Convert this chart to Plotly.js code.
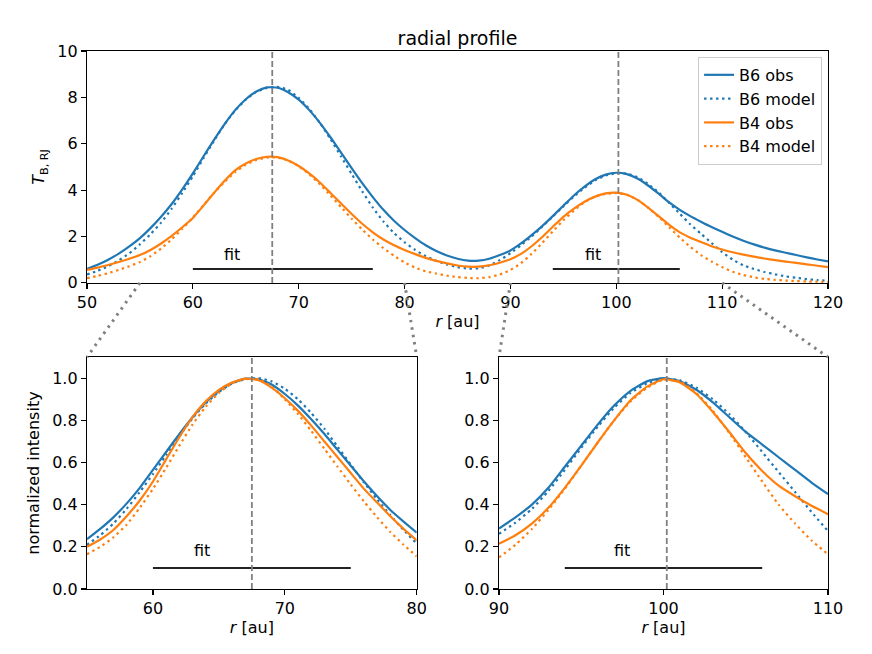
<!DOCTYPE html>
<html>
<head>
<meta charset="utf-8">
<script src="https://cdn.plot.ly/plotly-3.0.1.min.js"></script>
<style>
  body { margin: 0; background: #fff; }
  #chart { width: 872px; height: 654px; }
</style>
</head>
<body>
<div id="chart"></div>
<script>
// radial grid of the full profile (au)
const r = [50, 51, 52, 53, 54, 55, 56, 57, 58, 59, 60, 61, 62, 63, 64, 65, 66, 67, 68, 69,
  70, 71, 72, 73, 74, 75, 76, 77, 78, 79, 80, 81, 82, 83, 84, 85, 86, 87, 88, 89,
  90, 91, 92, 93, 94, 95, 96, 97, 98, 99, 100, 101, 102, 103, 104, 105, 106, 107, 108, 109,
  110, 111, 112, 113, 114, 115, 116, 117, 118, 119, 120];

// brightness temperature T_B,RJ
const b6Obs = [0.60, 0.78, 1.0, 1.26, 1.57, 1.93, 2.36, 2.85, 3.4, 4.03, 4.72, 5.45, 6.17, 6.85, 7.45, 7.92, 8.25, 8.43, 8.42, 8.22,
  7.9, 7.45, 6.9, 6.28, 5.62, 4.95, 4.3, 3.7, 3.15, 2.68, 2.28, 1.93, 1.62, 1.37, 1.18, 1.04, 0.96, 0.96, 1.04, 1.2,
  1.4, 1.7, 2.06, 2.45, 2.88, 3.33, 3.77, 4.15, 4.47, 4.67, 4.75, 4.69, 4.5, 4.2, 3.85, 3.47, 3.15, 2.88, 2.64, 2.41,
  2.2, 2.0, 1.82, 1.66, 1.52, 1.4, 1.3, 1.2, 1.1, 1.01, 0.93];
const b6Model = [0.36, 0.52, 0.72, 0.97, 1.28, 1.66, 2.1, 2.6, 3.2, 3.88, 4.6, 5.37, 6.13, 6.84, 7.44, 7.9, 8.24, 8.41, 8.45, 8.32,
  7.98, 7.5, 6.9, 6.2, 5.45, 4.7, 3.95, 3.25, 2.65, 2.15, 1.75, 1.42, 1.15, 0.95, 0.8, 0.68, 0.62, 0.63, 0.75, 0.98,
  1.28, 1.62, 2.0, 2.42, 2.86, 3.3, 3.73, 4.1, 4.42, 4.63, 4.73, 4.71, 4.56, 4.27, 3.9, 3.45, 2.98, 2.52, 2.12, 1.72,
  1.33, 1.0, 0.76, 0.6, 0.47, 0.37, 0.28, 0.22, 0.16, 0.12, 0.09];
const b4Obs = [0.56, 0.66, 0.77, 0.9, 1.04, 1.2, 1.42, 1.7, 2.03, 2.4, 2.8, 3.33, 3.88, 4.4, 4.85, 5.15, 5.34, 5.44, 5.42, 5.28,
  5.04, 4.72, 4.33, 3.88, 3.42, 2.97, 2.55, 2.18, 1.87, 1.62, 1.42, 1.24, 1.08, 0.95, 0.84, 0.75, 0.7, 0.7, 0.76, 0.87,
  1.02, 1.25, 1.58, 1.98, 2.42, 2.85, 3.2, 3.5, 3.72, 3.86, 3.89, 3.8, 3.58, 3.25, 2.88, 2.5, 2.18, 1.95, 1.76, 1.58,
  1.44, 1.32, 1.22, 1.13, 1.05, 0.98, 0.92, 0.86, 0.8, 0.74, 0.68];
const b4Model = [0.2, 0.3, 0.42, 0.56, 0.72, 0.9, 1.15, 1.48, 1.88, 2.33, 2.82, 3.35, 3.88, 4.36, 4.78, 5.1, 5.3, 5.4, 5.4, 5.28,
  5.04, 4.68, 4.25, 3.77, 3.27, 2.77, 2.3, 1.87, 1.5, 1.17, 0.88, 0.66, 0.5, 0.4, 0.31, 0.25, 0.21, 0.2, 0.25, 0.36,
  0.56, 0.85, 1.25, 1.72, 2.22, 2.7, 3.12, 3.48, 3.72, 3.84, 3.87, 3.8, 3.58, 3.25, 2.85, 2.4, 1.95, 1.55, 1.2, 0.92,
  0.68, 0.48, 0.34, 0.24, 0.17, 0.13, 0.1, 0.08, 0.06, 0.05, 0.04];

// inner ring, normalized intensity
const rInner = [55, 56, 57, 58, 59, 60, 61, 62, 63, 64, 65, 66, 67, 68, 69, 70, 71, 72, 73, 74, 75, 76, 77, 78, 79, 80];
const b6ObsInner = [0.236, 0.285, 0.34, 0.405, 0.48, 0.565, 0.65, 0.735, 0.815, 0.885, 0.94, 0.978, 0.998, 0.995, 0.97, 0.925, 0.87, 0.805, 0.735, 0.66, 0.585, 0.51, 0.44, 0.375, 0.32, 0.267];
const b6ModelInner = [0.21, 0.255, 0.31, 0.38, 0.46, 0.545, 0.635, 0.725, 0.81, 0.88, 0.935, 0.975, 0.995, 1.0, 0.985, 0.95, 0.9, 0.835, 0.76, 0.675, 0.59, 0.505, 0.425, 0.35, 0.28, 0.215];
const b4ObsInner = [0.2, 0.235, 0.28, 0.345, 0.42, 0.51, 0.615, 0.72, 0.815, 0.89, 0.945, 0.98, 0.998, 0.99, 0.955, 0.905, 0.845, 0.775, 0.7, 0.625, 0.55, 0.475, 0.41, 0.345, 0.285, 0.23];
const b4ModelInner = [0.165, 0.2, 0.245, 0.305, 0.385, 0.475, 0.575, 0.68, 0.78, 0.865, 0.93, 0.975, 0.997, 0.995, 0.96, 0.9, 0.83, 0.75, 0.665, 0.58, 0.495, 0.415, 0.34, 0.27, 0.21, 0.155];

// outer ring, normalized intensity
const rOuter = [90, 91, 92, 93, 94, 95, 96, 97, 98, 99, 100, 101, 102, 103, 104, 105, 106, 107, 108, 109, 110];
const b6ObsOuter = [0.287, 0.34, 0.4, 0.48, 0.58, 0.68, 0.78, 0.87, 0.94, 0.985, 1.0, 0.985, 0.945, 0.885, 0.815, 0.745, 0.685, 0.625, 0.565, 0.505, 0.45];
const b6ModelOuter = [0.262, 0.315, 0.38, 0.465, 0.565, 0.67, 0.77, 0.86, 0.93, 0.975, 0.997, 0.99, 0.955, 0.9, 0.83, 0.745, 0.65, 0.555, 0.46, 0.365, 0.275];
const b4ObsOuter = [0.215, 0.255, 0.31, 0.385, 0.48, 0.585, 0.695, 0.8, 0.895, 0.96, 0.995, 0.98, 0.925, 0.84, 0.745, 0.645, 0.56, 0.49, 0.44, 0.395, 0.355];
const b4ModelOuter = [0.15, 0.21, 0.285, 0.375, 0.475, 0.585, 0.695, 0.8, 0.89, 0.955, 0.993, 0.985, 0.93, 0.845, 0.74, 0.625, 0.51, 0.4, 0.31, 0.23, 0.165];

const seriesNames = ["B6 obs", "B6 model", "B4 obs", "B4 model"];
const ringCenters = [67.5, 100.2];
const fitTop = [[60, 77], [94, 106]];
const fitInner = [60, 75];
const fitOuter = [94, 106];
const fitLabelX = [63.7, 97.8, 63.7, 97.5];

const blue = '#1f77b4';
const orange = '#ff7f0e';
const styles = [
  { color: blue, dash: 'solid' },
  { color: blue, dash: '2.4px,3.6px' },
  { color: orange, dash: 'solid' },
  { color: orange, dash: '2.4px,3.6px' }
];
const FONT = 'DejaVu Sans, sans-serif';
const fs = 16;

function profileTraces(xs, ysList, xa, ya, legend) {
  return ysList.map((ys, i) => ({
    x: xs, y: ys, xaxis: xa, yaxis: ya,
    type: 'scatter', mode: 'lines',
    name: seriesNames[i], showlegend: legend,
    line: { color: styles[i].color, dash: styles[i].dash, width: 2.2, shape: 'spline', smoothing: 0.5 },
    hoverinfo: 'skip'
  }));
}

function fitTrace(range, yv, xa, ya) {
  return {
    x: range, y: [yv, yv], xaxis: xa, yaxis: ya,
    type: 'scatter', mode: 'lines', showlegend: false,
    line: { color: '#222222', width: 2 }, hoverinfo: 'skip'
  };
}

const data = [
  ...profileTraces(r, [b6Obs, b6Model, b4Obs, b4Model], 'x', 'y', true),
  ...profileTraces(rInner, [b6ObsInner, b6ModelInner, b4ObsInner, b4ModelInner], 'x2', 'y2', false),
  ...profileTraces(rOuter, [b6ObsOuter, b6ModelOuter, b4ObsOuter, b4ModelOuter], 'x3', 'y3', false),
  fitTrace(fitTop[0], 0.6, 'x', 'y'),
  fitTrace(fitTop[1], 0.6, 'x', 'y'),
  fitTrace(fitInner, 0.1, 'x2', 'y2'),
  fitTrace(fitOuter, 0.1, 'x3', 'y3')
];

// panel geometry
const topRange = [50, 120];
const innerRange = [55, 80];
const outerRange = [90, 110];
const topDomainY = [0.569, 1];
const botDomainY = [0, 0.431];
const innerDomainX = [0, 0.445];
const outerDomainX = [0.556, 1];

function axisBase() {
  return {
    showline: true, mirror: true, linecolor: '#000', linewidth: 1.2,
    ticks: 'outside', ticklen: 5, tickwidth: 1.2, tickcolor: '#000',
    showgrid: false, zeroline: false,
    tickfont: { family: FONT, size: fs, color: '#000' }
  };
}

const rTitle = { text: '<i>r</i> [au]', font: { family: FONT, size: fs, color: '#000' }, standoff: 4 };

// dashed ring centres
const shapes = [];
[['x', 'y'], ['x2', 'y2'], ['x3', 'y3']].forEach(([xa, ya], k) => {
  const centers = k === 0 ? ringCenters : [ringCenters[k - 1]];
  centers.forEach(c => shapes.push({
    type: 'line', xref: xa, yref: ya + ' domain', x0: c, x1: c, y0: 0, y1: 1,
    line: { color: '#808080', width: 1.8, dash: '6px,3px' }, layer: 'above'
  }));
});

// zoom connectors from the top panel to the lower panels
function toPaper(v, range, dom) {
  return dom[0] + (v - range[0]) / (range[1] - range[0]) * (dom[1] - dom[0]);
}
const connectors = [
  [innerRange[0], innerDomainX[0]],
  [innerRange[1], innerDomainX[1]],
  [outerRange[0], outerDomainX[0]],
  [outerRange[1], outerDomainX[1]]
];
connectors.forEach(([v, px]) => shapes.push({
  type: 'line', xref: 'paper', yref: 'paper',
  x0: toPaper(v, topRange, [0, 1]), y0: topDomainY[0],
  x1: px, y1: botDomainY[1],
  line: { color: '#808080', width: 3, dash: '2.5px,5px' }, layer: 'above'
}));

const annFont = { family: FONT, size: fs, color: '#000' };
const annotations = [
  { x: fitLabelX[0], y: 0.72, xref: 'x', yref: 'y', text: 'fit', showarrow: false, yanchor: 'bottom', font: annFont },
  { x: fitLabelX[1], y: 0.72, xref: 'x', yref: 'y', text: 'fit', showarrow: false, yanchor: 'bottom', font: annFont },
  { x: fitLabelX[2], y: 0.13, xref: 'x2', yref: 'y2', text: 'fit', showarrow: false, yanchor: 'bottom', font: annFont },
  { x: fitLabelX[3], y: 0.13, xref: 'x3', yref: 'y3', text: 'fit', showarrow: false, yanchor: 'bottom', font: annFont }
];

const layout = {
  width: 872, height: 654,
  margin: { l: 87, r: 44, t: 51, b: 65 },
  paper_bgcolor: '#fff', plot_bgcolor: '#fff',
  font: { family: FONT, size: fs, color: '#000' },
  title: {
    text: 'radial profile', font: { family: FONT, size: 19, color: '#000' },
    x: 0.5, xref: 'paper', xanchor: 'center', y: 1 - 38 / 654, yref: 'container', yanchor: 'middle'
  },
  showlegend: true,
  legend: {
    x: 0.992, y: 0.989, xanchor: 'right', yanchor: 'top',
    bgcolor: 'rgba(255,255,255,0.85)', bordercolor: '#cccccc', borderwidth: 1,
    font: { family: FONT, size: fs, color: '#000' },
    itemwidth: 30, tracegroupgap: 0
  },
  xaxis: Object.assign(axisBase(), {
    domain: [0, 1], range: topRange, anchor: 'y',
    tickvals: [50, 60, 70, 80, 90, 100, 110, 120], title: rTitle
  }),
  yaxis: Object.assign(axisBase(), {
    domain: topDomainY, range: [0, 10], anchor: 'x',
    tickvals: [0, 2, 4, 6, 8, 10],
    title: { text: '<i>T</i><sub>B, RJ</sub>', font: { family: FONT, size: fs, color: '#000' }, standoff: 8 }
  }),
  xaxis2: Object.assign(axisBase(), {
    domain: innerDomainX, range: innerRange, anchor: 'y2',
    tickvals: [60, 70, 80], title: rTitle
  }),
  yaxis2: Object.assign(axisBase(), {
    domain: botDomainY, range: [0, 1.1], anchor: 'x2',
    tickvals: [0, 0.2, 0.4, 0.6, 0.8, 1.0], tickformat: '.1f',
    title: { text: 'normalized intensity', font: { family: FONT, size: fs, color: '#000' }, standoff: 8 }
  }),
  xaxis3: Object.assign(axisBase(), {
    domain: outerDomainX, range: outerRange, anchor: 'y3',
    tickvals: [90, 100, 110], title: rTitle
  }),
  yaxis3: Object.assign(axisBase(), {
    domain: botDomainY, range: [0, 1.1], anchor: 'x3',
    tickvals: [0, 0.2, 0.4, 0.6, 0.8, 1.0], tickformat: '.1f'
  }),
  shapes: shapes,
  annotations: annotations
};

Plotly.newPlot('chart', data, layout, { displayModeBar: false, staticPlot: true });
</script>
</body>
</html>
